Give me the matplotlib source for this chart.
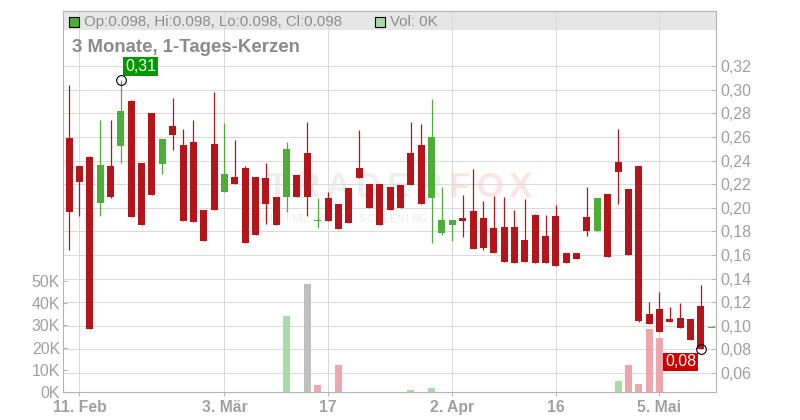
import numpy as np
import matplotlib
matplotlib.use("Agg")
import matplotlib.pyplot as plt
from matplotlib.patches import Rectangle

plt.rcParams['font.family'] = ['Liberation Sans', 'DejaVu Sans']

# daily candles (trading days only)
dates = ["2025-02-10", "2025-02-11", "2025-02-12", "2025-02-13", "2025-02-14",
         "2025-02-17", "2025-02-18", "2025-02-19", "2025-02-20", "2025-02-21",
         "2025-02-24", "2025-02-25", "2025-02-26", "2025-02-27", "2025-02-28",
         "2025-03-03", "2025-03-04", "2025-03-05", "2025-03-06", "2025-03-07",
         "2025-03-10", "2025-03-11", "2025-03-12", "2025-03-13", "2025-03-14",
         "2025-03-17", "2025-03-18", "2025-03-19", "2025-03-20", "2025-03-21",
         "2025-03-24", "2025-03-25", "2025-03-26", "2025-03-27", "2025-03-28",
         "2025-03-31", "2025-04-01", "2025-04-02", "2025-04-03", "2025-04-04",
         "2025-04-07", "2025-04-08", "2025-04-09", "2025-04-10", "2025-04-11",
         "2025-04-14", "2025-04-15", "2025-04-16", "2025-04-17", "2025-04-22",
         "2025-04-23", "2025-04-24", "2025-04-25", "2025-04-28", "2025-04-29",
         "2025-04-30", "2025-05-02", "2025-05-05", "2025-05-06", "2025-05-07",
         "2025-05-08", "2025-05-09", "2025-05-12"]

opens = [0.259, 0.235, 0.243, 0.204, 0.235, 0.252, 0.290, 0.238, 0.280, 0.237,
         0.269, 0.253, 0.256, 0.198, 0.254, 0.213, 0.226, 0.234, 0.226, 0.225,
         0.209, 0.209, 0.228, 0.246, 0.189, 0.208, 0.203, 0.217, 0.234, 0.220,
         0.220, 0.218, 0.219, 0.246, 0.253, 0.2085, 0.179, 0.185, 0.191, 0.197,
         0.191, 0.183, 0.184, 0.184, 0.173, 0.194, 0.176, 0.193, 0.162, 0.162,
         0.192, 0.1805, 0.212, 0.239, 0.216, 0.235, 0.110, 0.114, 0.106, 0.107,
         0.106, 0.117, 0.098]
highs = [0.304, 0.235, 0.244, 0.274, 0.274, 0.308, 0.291, 0.238, 0.280, 0.258,
         0.293, 0.267, 0.274, 0.198, 0.298, 0.272, 0.257, 0.235, 0.226, 0.238,
         0.209, 0.256, 0.228, 0.273, 0.2085, 0.213, 0.203, 0.217, 0.266, 0.220,
         0.220, 0.218, 0.219, 0.273, 0.271, 0.292, 0.218, 0.190, 0.211, 0.233,
         0.206, 0.210, 0.209, 0.198, 0.207, 0.195, 0.194, 0.202, 0.162, 0.162,
         0.218, 0.208, 0.212, 0.267, 0.216, 0.235, 0.120, 0.129, 0.116, 0.119,
         0.106, 0.135, 0.098]
lows = [0.164, 0.193, 0.097, 0.193, 0.208, 0.238, 0.192, 0.185, 0.211, 0.229,
        0.249, 0.189, 0.188, 0.172, 0.198, 0.213, 0.220, 0.170, 0.177, 0.1865,
        0.185, 0.196, 0.209, 0.193, 0.183, 0.189, 0.182, 0.187, 0.225, 0.200,
        0.185, 0.198, 0.200, 0.219, 0.203, 0.170, 0.177, 0.172, 0.1755, 0.165,
        0.164, 0.162, 0.154, 0.153, 0.154, 0.153, 0.153, 0.151, 0.153, 0.157,
        0.176, 0.1805, 0.158, 0.203, 0.160, 0.103, 0.102, 0.095, 0.103, 0.098,
        0.088, 0.080, 0.098]
closes = [0.196, 0.222, 0.097, 0.236, 0.209, 0.282, 0.192, 0.185, 0.211, 0.258,
          0.262, 0.189, 0.188, 0.172, 0.198, 0.229, 0.220, 0.170, 0.177, 0.203,
          0.185, 0.250, 0.209, 0.209, 0.189, 0.189, 0.182, 0.187, 0.225, 0.200,
          0.185, 0.198, 0.200, 0.219, 0.203, 0.260, 0.190, 0.190, 0.189, 0.165,
          0.166, 0.162, 0.154, 0.153, 0.154, 0.153, 0.153, 0.151, 0.153, 0.157,
          0.1805, 0.208, 0.158, 0.230, 0.160, 0.104, 0.102, 0.095, 0.103, 0.098,
          0.088, 0.080, 0.098]
volumes = [0, 0, 0, 0, 0, 0, 0, 0, 0, 0,
           0, 0, 0, 0, 0, 0, 0, 0, 0, 0,
           0, 34200, 0, 48600, 3200, 0, 12200, 0, 0, 0,
           0, 0, 0, 900, 0, 1800, 0, 0, 0, 0,
           0, 0, 0, 0, 0, 0, 0, 0, 0, 0,
           0, 0, 0, 5000, 12200, 3600, 28400, 24300, 0, 0,
           0, 0, 0]

xtick_dates = ["2025-02-11", "2025-03-03", "2025-03-17", "2025-04-02", "2025-04-16", "2025-05-05"]
xtick_labels = ["11. Feb", "3. Mär", "17", "2. Apr", "16", "5. Mai"]
price_ticks = [0.06, 0.08, 0.10, 0.12, 0.14, 0.16, 0.18, 0.20, 0.22, 0.24, 0.26, 0.28, 0.30, 0.32]
vol_ticks = [0, 10000, 20000, 30000, 40000, 50000]
vol_labels = ["0K", "10K", "20K", "30K", "40K", "50K"]

RED = '#b3151a'
GREEN = '#4aae37'
GRID = '#dadada'
SPINE = '#b4b4b4'

o = np.array(opens)
h = np.array(highs)
l = np.array(lows)
c = np.array(closes)
v = np.array(volumes)
idx = np.arange(len(dates))

cols = [GREEN if cc >= oo else RED for oo, cc in zip(o, c)]
vcols = ['#bfbfbf']
for i in range(1, len(c)):
    if c[i] > c[i - 1]:
        vcols.append('#aadba4')
    elif c[i] < c[i - 1]:
        vcols.append('#eea6ad')
    else:
        vcols.append('#bfbfbf')

fig = plt.figure(figsize=(8, 4.2), dpi=100)
ax = fig.add_axes([63 / 800, 28 / 420, 653 / 800, 381 / 420])
axv = ax.twinx()
ax.set_xlim(-0.59, 62.46)
ax.set_ylim(0.044, 0.3666)
ax.set_axisbelow(True)

# header bar
ax.add_patch(Rectangle((0, 0.9501), 1, 0.0499, transform=ax.transAxes,
                       facecolor='#e6e6e6', edgecolor='none', zorder=0.3))

# watermark
for i, ch in enumerate("TRADERFOX"):
    ax.text((277 + i * 30.4 - 63) / 653, 0.538, ch, transform=ax.transAxes,
            ha='center', va='center', fontsize=25, fontweight='bold',
            color='#efefef' if i < 6 else '#fce3e6', zorder=0.4)
for i, ch in enumerate("REALTIME STOCK SCREENING"):
    ax.text((250 + i * 7.5 - 63) / 653, 0.454, ch, transform=ax.transAxes,
            ha='center', va='center', fontsize=7.5, color='#ebebeb', zorder=0.4)

# candles
ax.vlines(idx, l, h, colors=cols, lw=0.9, zorder=2.5)
ax.bar(idx, np.maximum(np.abs(c - o), 0.0009), bottom=np.minimum(o, c),
       width=0.68, color=cols, zorder=3)

# high / low markers
hi = int(np.argmax(h))
lo = int(np.argmin(l))
ax.plot(hi, h[hi], 'o', mfc='none', mec='black', ms=7, mew=0.8, zorder=5)
ax.plot(lo, l[lo], 'o', mfc='none', mec='black', ms=7, mew=0.8, zorder=5)
ax.annotate(f"{h[hi]:.2f}".replace('.', ','), xy=(hi, h[hi]), xytext=(4.5, 6),
            textcoords='offset pixels', ha='left', va='bottom', color='white',
            fontsize=11.5, zorder=6,
            bbox=dict(boxstyle='square,pad=0.12', fc='#009a00', ec='none'))
ax.annotate(f"{l[lo]:.2f}".replace('.', ','), xy=(lo, l[lo]), xytext=(-4.5, -5),
            textcoords='offset pixels', ha='right', va='top', color='white',
            fontsize=11.5, zorder=6,
            bbox=dict(boxstyle='square,pad=0.12', fc='#cc0000', ec='none'))

# axes styling
xt = [dates.index(d) for d in xtick_dates]
ax.set_xticks(xt)
ax.set_xticklabels(xtick_labels, fontsize=11.3, fontweight='bold', color='#a0a0a0')
ax.tick_params(axis='x', length=3, color=SPINE, pad=3)
ax.yaxis.tick_right()
ax.set_yticks(price_ticks)
ax.set_yticklabels([f"{p:.2f}".replace('.', ',') for p in price_ticks],
                   fontsize=11.5, color='#a0a0a0')
ax.tick_params(axis='y', direction='in', length=3, color=SPINE, pad=3)
ax.grid(True, color=GRID, lw=0.75)
for s in ax.spines.values():
    s.set_color(SPINE)
    s.set_linewidth(0.8)

# volume on left axis
axv.bar(idx, v, width=0.68, color=vcols, zorder=2)
axv.set_ylim(0, 171600)
axv.yaxis.tick_left()
axv.set_yticks(vol_ticks)
axv.set_yticklabels(vol_labels, fontsize=11.5, color='#a0a0a0')
axv.tick_params(axis='y', direction='in', length=3, color=SPINE, pad=2)
for s in axv.spines.values():
    s.set_visible(False)

# header texts
ax.plot([0.0168], [0.9724], marker='s', ms=7.5, mfc=GREEN, mec='black', mew=0.8,
        transform=ax.transAxes, clip_on=False, zorder=6)
ax.text(0.0322, 0.9724, "Op:0.098, Hi:0.098, Lo:0.098, Cl:0.098", transform=ax.transAxes,
        ha='left', va='center', fontsize=10.8, color='#8c8c8c', zorder=6)
ax.plot([0.4847], [0.9724], marker='s', ms=7.5, mfc='#aadba4', mec='black', mew=0.8,
        transform=ax.transAxes, clip_on=False, zorder=6)
ax.text(0.5008, 0.9724, "Vol: 0K", transform=ax.transAxes,
        ha='left', va='center', fontsize=10.8, color='#8c8c8c', zorder=6)
ax.text(0.0138, 0.903, "3 Monate, 1-Tages-Kerzen", transform=ax.transAxes,
        ha='left', va='center', fontsize=13.4, fontweight='bold', color='#8a8a8a', zorder=6)

fig.savefig("out.png", dpi=100)
